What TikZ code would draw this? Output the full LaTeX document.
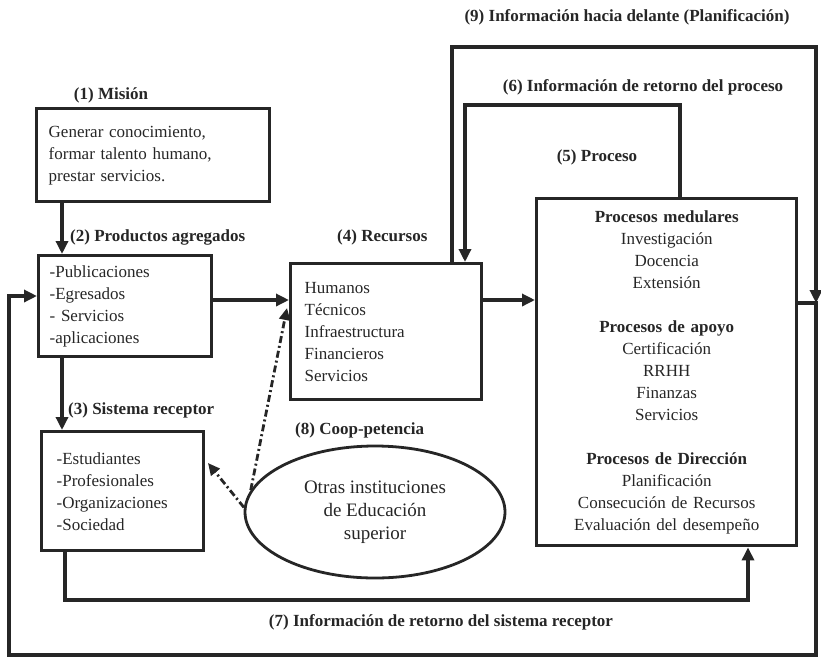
\documentclass[tikz,border=0pt]{standalone}
\usepackage{fontspec}
\setmainfont{Liberation Serif}
\usetikzlibrary{arrows.meta,shapes.geometric}
\definecolor{ink}{HTML}{262626}
\begin{document}
\begin{tikzpicture}[x=1pt,y=-1pt,
  every node/.style={text=ink},
  box/.style={draw=ink,line width=3.4pt,rectangle,inner ysep=0pt,align=left,
              font=\fontsize{17}{22}\selectfont},
  lbl/.style={font=\bfseries\fontsize{17}{20}\selectfont,inner sep=0pt},
  wire/.style={draw=ink,line width=3.4pt,line join=miter},
  arr/.style={wire,-{Triangle[length=13pt,width=12pt]}},
  dasharr/.style={draw=ink,line width=2.8pt,dash pattern=on 7pt off 3pt on 2pt off 3pt,
                  -{Triangle[length=12pt,width=11pt]}}]
\useasboundingbox (0,0) rectangle (821,662);

% reference columns and rows for the connectors
\coordinate (c8) at (9,0);
\coordinate (c62) at (62,0);
\coordinate (c65) at (65,0);
\coordinate (c452) at (452,0);
\coordinate (c465) at (465,0);
\coordinate (c680) at (680,0);
\coordinate (c748) at (748,0);
\coordinate (c815) at (816,0);
\coordinate (r47) at (0,47);
\coordinate (r105) at (0,105);
\coordinate (r296) at (0,296);
\coordinate (r300) at (0,300);
\coordinate (r303) at (0,303);
\coordinate (r308) at (0,308);
\coordinate (r600) at (0,600);
\coordinate (r655) at (0,655);

% boxes
\node[box,anchor=north west,text width=209pt,inner xsep=12pt,minimum height=93pt]
  (mision) at (35,107) {Generar conocimiento,\\formar talento humano,\\prestar servicios.};
\node[box,anchor=north west,text width=151pt,inner xsep=11pt,minimum height=101pt]
  (prod) at (37,254) {-Publicaciones\\-Egresados\\- Servicios\\-aplicaciones};
\node[box,anchor=north west,text width=163pt,inner xsep=14pt,minimum height=136pt]
  (rec) at (289,262) {Humanos\\Técnicos\\Infraestructura\\Financieros\\Servicios};
\node[box,anchor=north west,text width=132pt,inner xsep=15pt,minimum height=119pt]
  (sist) at (40,430) {-Estudiantes\\-Profesionales\\-Organizaciones\\-Sociedad};
\node[box,anchor=north west,text width=240pt,inner xsep=10pt,minimum height=347pt,align=center]
  (proc) at (535,197) {\textbf{Procesos medulares}\\Investigación\\Docencia\\Extensión\\[22pt]
    \textbf{Procesos de apoyo}\\Certificación\\RRHH\\Finanzas\\Servicios\\[22pt]
    \textbf{Procesos de Dirección}\\Planificación\\Consecución de Recursos\\Evaluación del desempeño};
\node[ellipse,draw=ink,line width=2.8pt,minimum width=260pt,minimum height=132pt,inner sep=0pt,
      align=center,font=\fontsize{19}{23}\selectfont]
  (ell) at (375,512) {Otras instituciones\\de Educación\\superior};

% labels
\node[lbl] (l1) at (111,95) {(1) Misión};
\node[lbl,anchor=west] (l2) at (70,237) {(2) Productos agregados};
\node[lbl,anchor=west] (l3) at (68,410) {(3) Sistema receptor};
\node[lbl,anchor=west] (l4) at (337,237) {(4) Recursos};
\node[lbl] (l5) at (597,157) {(5) Proceso};
\node[lbl] (l6) at (643,87) {(6) Información de retorno del proceso};
\node[lbl] (l7) at (441,622) {(7) Información de retorno del sistema receptor};
\node[lbl,anchor=west] (l8) at (295,430) {(8) Coop-petencia};
\node[lbl] (l9) at (627,17) {(9) Información hacia delante (Planificación)};

% main flow
\draw[arr] (mision.south -| c62) -- (prod.north -| c62);
\draw[arr] (prod.south -| c62) -- (sist.north -| c62);
\draw[arr] (prod.east |- r300) -- (rec.west |- r300);
\draw[arr] (rec.east |- r300) -- (proc.west |- r300);

% (6) feedback from the process
\draw[arr] (proc.north -| c680) -- (c680 |- r105) -- (c465 |- r105) -- (rec.north -| c465);

% (9) feed-forward
\draw[arr] (rec.north -| c452) -- (c452 |- r47) -- (c815 |- r47) -- (c815 |- r303);

% output loop back to the products
\draw[arr] (proc.east |- r303) -- (c815 |- r303) -- (c815 |- r655) -- (c8 |- r655)
  -- (c8 |- r296) -- (prod.west |- r296);

% (7) feedback from the receiving system
\draw[arr] (sist.south -| c65) -- (c65 |- r600) -- (c748 |- r600) -- (proc.south -| c748);

% (8) co-opetition links
\coordinate (t8a) at (208,463);
\draw[dasharr] (ell.170) -- ([xshift=-2pt]rec.west |- r308);
\draw[dasharr] (ell.178) -- (t8a);
\end{tikzpicture}
\end{document}
